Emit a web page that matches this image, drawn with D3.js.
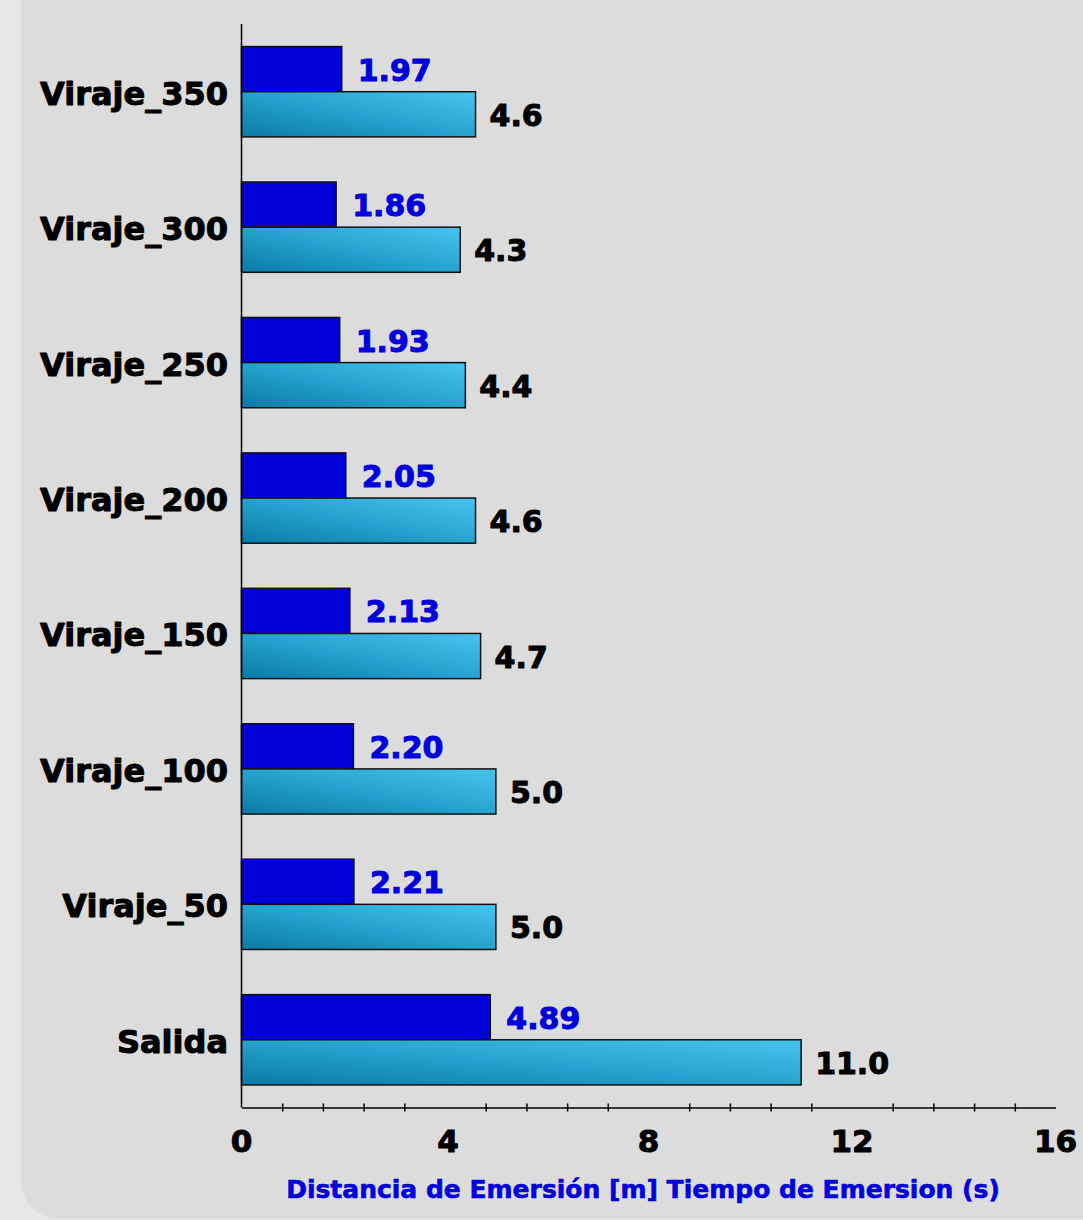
<!DOCTYPE html>
<html>
<head>
<meta charset="utf-8">
<script src="https://cdn.jsdelivr.net/npm/d3@7"></script>
<style>
  html, body { margin: 0; padding: 0; background: #e6e6e6; }
  svg { display: block; }
  text { font-family: "DejaVu Sans", Lato, sans-serif; font-weight: bold; }
  text.heavy { stroke-width: 1; stroke-linejoin: round; }
</style>
</head>
<body>
<script>
// Turn categories, listed top to bottom
const categories = ["Viraje_350", "Viraje_300", "Viraje_250", "Viraje_200", "Viraje_150", "Viraje_100", "Viraje_50", "Salida"];
// Emergence distance [m]
const distance = [1.97, 1.86, 1.93, 2.05, 2.13, 2.20, 2.21, 4.89];
// Emergence time (s)
const time = [4.6, 4.3, 4.4, 4.6, 4.7, 5.0, 5.0, 11.0];
const xTickLabels = [0, 4, 8, 12, 16];
const axisTitle = "Distancia de Emersión [m] Tiempo de Emersion (s)";

const W = 1083, H = 1220;
const svg = d3.select("body").append("svg").attr("width", W).attr("height", H);

// gradient for the time bars
const defs = svg.append("defs");
const grad = defs.append("linearGradient").attr("id", "timeGrad")
  .attr("x1", "0%").attr("y1", "100%").attr("x2", "100%").attr("y2", "0%");
grad.append("stop").attr("offset", "0%").attr("stop-color", "#0b7aa6");
grad.append("stop").attr("offset", "45%").attr("stop-color", "#229fcc");
grad.append("stop").attr("offset", "100%").attr("stop-color", "#47c4ee");

// panel
svg.append("rect").attr("x", 21).attr("y", -40).attr("width", W + 40).attr("height", H - 1 + 40)
  .attr("rx", 38).attr("fill", "#dcdcdc");

const x0 = 241.5, x1 = 1055.5, yTop = 24, yBot = 1107.5;
const x = d3.scaleLinear().domain([0, 16]).range([x0, x1]);
const yBand = d3.scaleBand().domain(categories).range([yTop, yBot]).paddingInner(1 / 3).paddingOuter(1 / 6);
const half = yBand.bandwidth() / 2;

const g = svg.append("g");

// bars
categories.forEach((c, i) => {
  const yb = yBand(c);
  g.append("rect").attr("x", x(0)).attr("y", yb).attr("width", x(distance[i]) - x(0)).attr("height", half)
    .attr("fill", "#0000d8").attr("stroke", "#111").attr("stroke-width", 1.5);
  g.append("rect").attr("x", x(0)).attr("y", yb + half).attr("width", x(time[i]) - x(0)).attr("height", half)
    .attr("fill", "url(#timeGrad)").attr("stroke", "#111").attr("stroke-width", 1.5);
  g.append("text").attr("class", "heavy").attr("x", x(distance[i]) + 16).attr("y", yb + half / 2 + 1)
    .attr("dominant-baseline", "central").attr("font-size", 30).attr("fill", "#0000dd").attr("stroke", "#0000dd")
    .text(distance[i].toFixed(2));
  g.append("text").attr("class", "heavy").attr("x", x(time[i]) + 14).attr("y", yb + half * 1.5 + 1)
    .attr("dominant-baseline", "central").attr("font-size", 30).attr("fill", "#000").attr("stroke", "#000")
    .text(time[i].toFixed(1));
  g.append("text").attr("class", "heavy").attr("x", 228).attr("y", yb + half + 2)
    .attr("dominant-baseline", "central").attr("text-anchor", "end").attr("font-size", 32)
    .attr("fill", "#000").attr("stroke", "#000")
    .text(c);
});

// y axis line
g.append("line").attr("x1", x0).attr("x2", x0).attr("y1", yTop).attr("y2", yBot)
  .attr("stroke", "#000").attr("stroke-width", 1.5);

// x axis with minor ticks every 0.8
const xAxis = d3.axisBottom(x)
  .tickValues(d3.range(1, 20).filter(k => k % 5 !== 0).map(k => k * 0.8))
  .tickSize(4).tickSizeOuter(0).tickFormat("");
const ax = g.append("g").attr("transform", `translate(0,${yBot})`).call(xAxis);
ax.select(".domain").attr("stroke", "#000").attr("stroke-width", 1.5);
ax.selectAll(".tick line").attr("stroke", "#000").attr("stroke-width", 1.5).attr("y1", -4).attr("y2", 4);

// tick labels
g.selectAll(".xlab").data(xTickLabels).enter().append("text")
  .attr("class", "heavy")
  .attr("x", d => x(d) + (d === 4 ? 3 : 0)).attr("y", 1152)
  .attr("text-anchor", "middle").attr("font-size", 31).attr("fill", "#000").attr("stroke", "#000")
  .text(d => d);

// axis title
g.append("text").attr("x", 643).attr("y", 1198).attr("text-anchor", "middle")
  .attr("font-size", 25).attr("fill", "#0000dd").attr("stroke", "#0000dd").attr("stroke-width", 0.6)
  .text(axisTitle);
</script>
</body>
</html>
